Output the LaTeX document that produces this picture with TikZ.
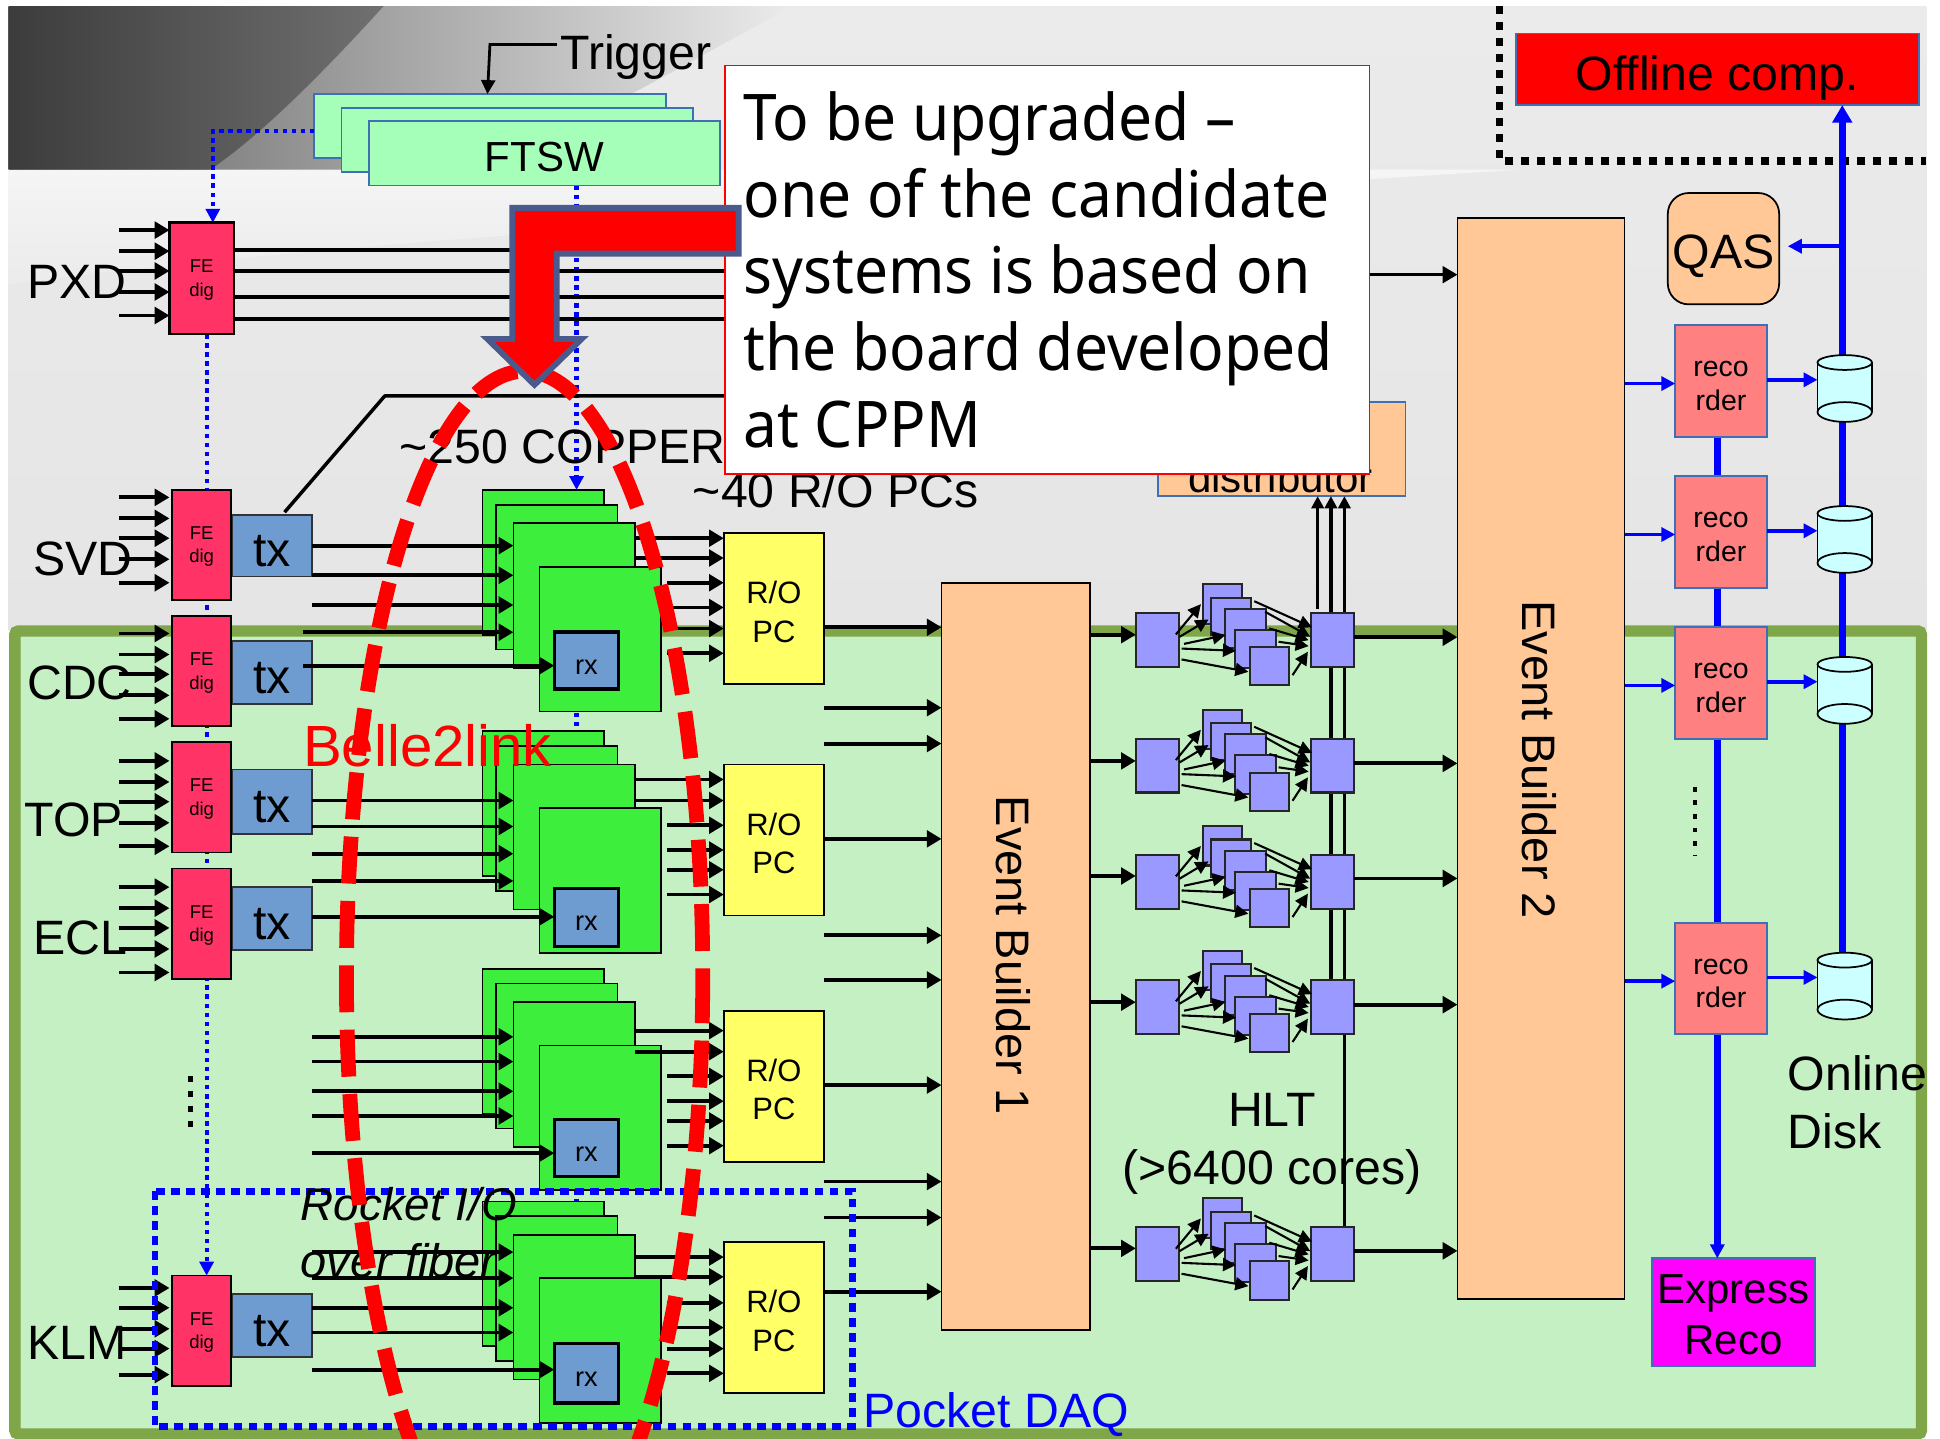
\documentclass[tikz,border=0pt]{standalone}
\usepackage{fontspec}
\setmainfont{Liberation Sans}
\newfontfamily\boxfont[FakeStretch=0.94]{Noto Sans}
\usetikzlibrary{arrows.meta}
\newcommand{\fs}[1]{\fontsize{\the\dimexpr0.711pt*#1\relax}{\the\dimexpr0.711pt*#1*6/5\relax}\selectfont}
\newcommand{\fsl}[2]{\fontsize{\the\dimexpr0.711pt*#1\relax}{\the\dimexpr0.711pt*#2\relax}\selectfont}
\newcommand{\rbox}[7]{%
  \pgfmathsetmacro\cxx{((#3)+(#5))/2}\pgfmathsetmacro\cyy{((#4)+(#6))/2}%
  \pgfmathsetmacro\bww{((#5)-(#3))*0.025}\pgfmathsetmacro\bhh{((#6)-(#4))*0.025}%
  \node[minimum width=\bww cm,minimum height=\bhh cm,inner sep=0pt,outer sep=0pt,align=center,#1] (#2) at (\cxx,\cyy) {#7};}
\definecolor{greenbg}{HTML}{C5F0C3}
\definecolor{greenbd}{HTML}{7FA648}
\definecolor{febc}{HTML}{FF3366}
\definecolor{txc}{HTML}{6F9CD0}
\definecolor{ftswc}{HTML}{A6FFB8}
\definecolor{edgeb}{HTML}{3F6FB5}
\definecolor{copc}{HTML}{3DEE3D}
\definecolor{roc}{HTML}{FFFF66}
\definecolor{ebc}{HTML}{FFC896}
\definecolor{hltc}{HTML}{9999FF}
\definecolor{recc}{HTML}{FF8080}
\definecolor{diskc}{HTML}{CCFFFF}
\definecolor{slate}{HTML}{4A5A8C}
\definecolor{pure}{HTML}{0000FF}
\definecolor{mag}{HTML}{FF00FF}
\definecolor{gA}{HTML}{EBEBEB}
\definecolor{gB}{HTML}{E5E5E5}
\definecolor{gC}{HTML}{F5F5F5}
\definecolor{gD}{HTML}{3C3C3C}
\definecolor{gE}{HTML}{707070}
\definecolor{gF}{HTML}{606060}
\tikzset{
  febox/.style={draw=black,line width=1.4pt,fill=febc},
  txbox/.style={draw=black!80,line width=1pt,fill=txc,font=\fs{39},text height=24.2pt,text depth=0pt},
  rxbox/.style={draw=black,line width=2pt,fill=txc,font=\fs{22},text height=15.6pt,text depth=0pt},
  ftswbox/.style={draw=edgeb,line width=1pt,fill=ftswc,font=\fs{34.5},text height=20.6pt,text depth=0pt},
  copbox/.style={draw=black,line width=1pt,fill=copc},
  robox/.style={draw=black,line width=1pt,fill=roc},
  ebbox/.style={draw=black,line width=1pt,fill=ebc},
  hltbox/.style={draw=black!85,line width=1.2pt,fill=hltc},
  recbox/.style={draw=edgeb,line width=1.2pt,fill=recc},
  mtext/.style={inner sep=0pt,outer sep=0pt,align=center},
  arr/.style={line width=2.2pt,draw=black,-{Triangle[length=8.5pt,width=9.5pt]}},
  plain/.style={line width=2pt,draw=black},
  fan/.style={line width=1.2pt,draw=black,-{Triangle[length=7.5pt,width=7.5pt]}},
  vtip/.style={line width=2pt,draw=black,-{Triangle[length=7pt,width=7pt]}},
  barr/.style={line width=2.2pt,draw=pure,-{Triangle[length=8pt,width=8pt]}},
  bmain/.style={line width=3.8pt,draw=pure},
  bdot/.style={line width=2.4pt,draw=pure,dash pattern=on 2.6pt off 2.6pt},
  labt/.style={font=\fs{39},inner sep=0pt,outer sep=0pt,anchor=west},
  disk/.style={fill=diskc,draw=black,line width=1pt},
}
\begin{document}
\begin{tikzpicture}[x=0.025cm,y=-0.025cm]
\useasboundingbox (0,0) rectangle (1568,1163);
% backgrounds
\shade[top color=gA,bottom color=gB] (7,5) rectangle (1557,510);
\shade[top color=gC,bottom color=gA] (7,137) -- (1230,137) .. controls (800,165) and (300,190) .. (7,230) -- cycle;
\shade[left color=gF,right color=gA] (7,5) -- (640,5) .. controls (540,60) and (450,110) .. (390,137) -- (7,137) -- cycle;
\shade[left color=gD,right color=gE] (7,5) -- (310,5) .. controls (260,60) and (210,110) .. (170,137) -- (7,137) -- cycle;
\draw[greenbd,fill=greenbg,line width=6.5pt,rounded corners=2pt] (12,510) rectangle (1553,1159);
% offline corner
\coordinate (dotA) at (1212,5);
\coordinate (dotB) at (1212,130);
\coordinate (dotC) at (1557,130);
\draw[line width=4.3pt,dash pattern=on 4.6pt off 4.6pt] (dotA) -- (dotB) -- (dotC);
% thin blue timing lines
\coordinate (dt) at (167,270);
\coordinate (dk) at (167,1031);
\draw[bdot,-{Triangle[length=8pt,width=8pt]}] (dt) -- (dk);
\coordinate (ft) at (466,150);
\coordinate (fc) at (466,396);
\draw[bdot,-{Triangle[length=8pt,width=8pt]}] (ft) -- (fc);
\coordinate (gap1a) at (466,576); \coordinate (gap1b) at (466,592);
\draw[bdot] (gap1a) -- (gap1b);
\coordinate (gap2a) at (466,962); \coordinate (gap2b) at (466,972);
\draw[bdot] (gap2a) -- (gap2b);
% dots on the left
\coordinate (vdA) at (154,870); \coordinate (vdB) at (154,914);
\draw[line width=3pt,dash pattern=on 3.5pt off 5pt] (vdA) -- (vdB);
% trigger and FTSW
\node[labt] (trig) at (453,46) {Trigger};
\rbox{ftswbox}{f1}{254}{76}{538}{128}{}
\rbox{ftswbox}{f2}{276}{87}{560}{139}{}
\rbox{ftswbox}{f3}{298}{98}{582}{150}{FTSW}
\coordinate (tgA) at (450,36); \coordinate (tgB) at (396,36); \coordinate (tgC) at (394,76);
\draw[line width=1.6pt,-{Triangle[length=8pt,width=8pt]}] (tgA) -- (tgB) -- (tgC);
\coordinate (fb) at (254,106); \coordinate (fa) at (172,106); \coordinate (fd) at (172,180);
\draw[bdot,-{Triangle[length=8pt,width=8pt]}] (fb) -- (fa) -- (fd);
% event builders and distributor
\rbox{draw=edgeb,line width=1pt,fill=ebc}{dist}{936}{325}{1136}{401}{}
\node[font=\fs{34.5},inner sep=0pt,anchor=base] (disttxt) at (1035,398) {distributor};
\rbox{ebbox}{eb1}{761}{471}{881}{1075}{}
\rbox{ebbox}{eb2}{1178}{176}{1313}{1050}{}
\node[font=\fs{38.5},rotate=-90,inner sep=0pt] (eb1t) at (819,772) {Event Builder 1};
\node[font=\fs{38.7},rotate=-90,inner sep=0pt] (eb2t) at (1244,614) {Event Builder 2};
% front end
\foreach \nm/\lab/\ty/\lx/\ly in {P/PXD/180/22/228,S/SVD/396/27/452,C/CDC/506/22/552,T/TOP/609/20/663,E/ECL/711/27/758}{
  \node[labt] (lab\nm) at (\lx,\ly) {\lab};
  \foreach \dd in {6,23,39,56,75}{
    \coordinate (in) at (96,{\ty+\dd});
    \coordinate (inb) at (137,{\ty+\dd});
    \draw[arr] (in) -- (inb);
  }
}
\node[labt] (labK) at (22,1085) {KLM};
\foreach \yy in {1041,1057,1074,1090,1111}{
  \coordinate (in) at (96,\yy); \coordinate (inb) at (137,\yy);
  \draw[arr] (in) -- (inb);
}
\rbox{febox}{feP}{137}{180}{189}{270}{}
\node[mtext,font=\fsl{15}{19}] (feP t) at ([yshift=-1pt]feP.center) {FE\\dig};
\foreach \nm/\ty in {S/396,C/498,T/600,E/702,K/1031}{
  \rbox{febox,line width=1pt}{fe\nm}{139}{\ty}{187}{\ty+89}{}
  \node[mtext,font=\fsl{15}{19}] (fe\nm t) at ([yshift=-1pt]fe\nm.center) {FE\\dig};
}
\foreach \nm/\ty/\by in {S/416/466,C/518/569,T/622/674,E/717/768,K/1046/1097}{
  \rbox{txbox}{tx\nm}{188}{\ty}{252}{\by}{tx}
}
% PXD outputs and SVD line, running behind the white box
\foreach \yy in {202,219,240,258}{
  \coordinate (pa) at (189,\yy); \coordinate (pb) at (600,\yy);
  \draw[plain] (pa) -- (pb);
}
\coordinate (sa) at (230,414); \coordinate (sb) at (311,320); \coordinate (sc) at (600,320);
\draw[plain,line join=round] (sa) -- (sb) -- (sc);
\coordinate (pout) at (1100,222);
\draw[arr,line width=1.8pt] (pout) -- (pout -| eb2.west);
% COPPER groups
\foreach \g/\ty/\ra/\rb in {1/396/511/557,2/591/718/765,3/783/905/951,4/971/1086/1134}{
  \rbox{copbox}{c\g a}{390}{\ty}{488}{\ty+117}{}
  \rbox{copbox}{c\g b}{401}{\ty+12}{499}{\ty+129}{}
  \rbox{copbox}{c\g c}{415}{\ty+27}{513}{\ty+144}{}
  \rbox{copbox}{c\g d}{436}{\ty+62}{534}{\ty+179}{}
  \rbox{rxbox}{rx\g}{448}{\ra}{500}{\rb}{rx}
}
\foreach \g/\ya/\yb/\yc/\yd/\ye/\sx in {1/441/465/489/511/538/245,2/647/668/690/712/741/252,3/838/858/882/902/932/252,4/1012/1033/1057/1077/1107/252}{
  \foreach \yy/\xx in {\ya/252,\yb/252,\yc/252,\yd/\sx}{
    \coordinate (ca) at (\xx,\yy);
    \draw[arr] (ca) -- (ca -| c\g c.west);
  }
  \coordinate (ca) at (\sx,\ye);
  \draw[arr] (ca) -- (ca -| rx\g.west);
}
% readout PCs
\foreach \g/\ty in {1/431,2/618,3/817,4/1004}{
  \rbox{robox}{ro\g}{585}{\ty}{666}{\ty+122}{}
  \node[mtext,font=\fsl{25.5}{31}] (ro\g t) at ([yshift=-1.8pt]ro\g.center) {R/O\\PC};
}
\foreach \g/\ya/\yb/\yc/\yd/\ye/\yf in {1/435/451/471/491/508/528,2/630/647/667/687/703/723,3/833/850/870/890/906/926,4/1016/1032/1053/1073/1090/1110}{
  \foreach \yy in {\ya,\yb}{
    \coordinate (oa) at (513,\yy);
    \draw[arr] (oa) -- (oa -| ro\g.west);
  }
  \foreach \yy in {\yc,\yd,\ye,\yf}{
    \coordinate (oa) at (539,\yy);
    \draw[arr] (oa) -- (oa -| ro\g.west);
  }
}
\foreach \yy in {507,572,601,678,756,792,877,955,984,1044}{
  \coordinate (ea) at (666,\yy);
  \draw[arr] (ea) -- (ea -| eb1.west);
}
% HLT vertical bundle
\coordinate (vl) at (1065,492);
\coordinate (vm) at (1075.7,792);
\coordinate (vr) at (1086.6,992);
\draw[vtip] (vl) -- (vl |- dist.south);
\draw[vtip] (vm) -- (vm |- dist.south);
\draw[vtip] (vr) -- (vr |- dist.south);
% HLT farms
\foreach \r/\y/\a/\b in {1/495.5/513/515,2/597/615/617,3/691/708/710,4/792/810/812,5/992/1009/1011}{
  \rbox{hltbox}{L\r}{918}{\y}{953}{\y+43.5}{}
  \rbox{hltbox}{R\r}{1059.5}{\y}{1094}{\y+43.5}{}
  \rbox{hltbox}{r\r a}{972}{\y-23.5}{1004}{\y+8.5}{}
  \rbox{hltbox}{r\r b}{979}{\y-12.5}{1011}{\y+17.5}{}
  \rbox{hltbox}{r\r c}{990}{\y-3.5}{1023}{\y+28.5}{}
  \rbox{hltbox}{r\r d}{998}{\y+13.5}{1031}{\y+44.5}{}
  \rbox{hltbox}{r\r e}{1010}{\y+27.5}{1042}{\y+58.5}{}
  \foreach \xa/\da/\xb/\db in {950.4/17.3/970.6/-7.2,953.4/19.2/976.8/5.2,957/24.9/990.5/17.8,955/28.7/999/30.5,955/37.5/1009/47.5,1013.7/-9.6/1060.4/11.5,1022.6/-1/1059/19.2,1025.9/12.4/1057.7/21.9,1033.4/23.2/1057.7/26.7,1044.7/50.2/1057.1/31.3}{
    \coordinate (fa1) at (\xa,{\y+\da});
    \coordinate (fa2) at (\xb,{\y+\db});
    \draw[fan] (fa1) -- (fa2);
  }
  \coordinate (ha) at (900,\a);
  \draw[arr] (ha -| eb1.east) -- (ha -| L\r.west);
  \coordinate (hb) at (1120,\b);
  \draw[arr] (hb -| R\r.east) -- (hb -| eb2.west);
}
\node[font=\fs{39},inner sep=0pt] (hlt) at (1028,897) {HLT};
\node[font=\fs{39},inner sep=0pt] (cores) at (1028,947) {(>6400 cores)};
% pocket DAQ
\draw[draw=pure,line width=3.6pt,dash pattern=on 5pt off 3.6pt] (125,963) rectangle (689,1153);
\node[labt,text=pure,font=\fs{39.5}] (pocket) at (698,1143) {Pocket DAQ};
% labels above the boards
\node[labt] (cop) at (323,361) {\textasciitilde 250 COPPER};
\node[labt] (ropcs) at (560,396) {\textasciitilde 40 R/O PCs};
\node[labt,font=\fs{47},text=red] (belle) at (245,603) {Belle2link};
\node[labt,font=\fs{37}\itshape] (rio) at (243,973) {Rocket I/O};
\node[labt,font=\fs{38}\itshape] (ofib) at (243,1019) {over fiber};
% storage side
\rbox{draw=edgeb,line width=1pt,fill=red,font=\fs{39},text height=24.2pt,text depth=0pt}{off}{1225}{27}{1551}{85}{Offline comp.}
\rbox{draw=black,line width=1pt,fill=ebc,rounded corners=12pt,font=\fs{39},text height=22.8pt,text depth=0pt}{qas}{1348}{156}{1438}{246}{QAS}
\rbox{draw=edgeb,line width=1pt,fill=mag}{expr}{1335}{1017}{1467}{1104}{}
\node[mtext,font=\fsl{34}{41}] (exprt) at ([yshift=-1.4pt]expr.center) {Express\\Reco};
\coordinate (bl) at (1489,775);
\draw[bmain,-{Triangle[length=10pt,width=11pt]}] (bl) -- (bl |- off.south);
\coordinate (ql) at (1489,199);
\draw[barr,shorten >=5pt] (ql) -- (ql -| qas.east);
\coordinate (rl) at (1388,353);
\draw[bmain,-{Triangle[length=8pt,width=8pt]}] (rl) -- (rl |- expr.north);
\coordinate (rdA) at (1370,636); \coordinate (rdB) at (1370,692);
\draw[line width=2.6pt,dash pattern=on 2.8pt off 5pt] (rdA) -- (rdB);
\foreach \i/\y in {1/263,2/385,3/507,4/746}{
  \rbox{recbox}{rec\i}{1354}{\y}{1428}{\y+90}{}
  \node[mtext,font=\fsl{23}{27}] (rec\i t) at ([yshift=-2.8pt]rec\i.center) {reco\\rder};
  \rbox{}{disk\i}{1469}{\y+24}{1513}{\y+78}{}
  \fill[diskc] (1469,\y+30) rectangle (1513,\y+70);
  \draw[black,line width=1pt] (1469,\y+30) -- (1469,\y+70) (1513,\y+30) -- (1513,\y+70);
  \draw[disk] (1491,\y+70) ellipse [x radius=22,y radius=8];
  \draw[disk] (1491,\y+30) ellipse [x radius=22,y radius=6];
  \coordinate (ra) at (1340,\y+47);
  \draw[barr] (ra -| eb2.east) -- (ra -| rec\i.west);
  \coordinate (rb) at (1440,\y+44);
  \draw[barr] (rb -| rec\i.east) -- (rb -| disk\i.west);
}
\node[labt,align=left,font=\fsl{39}{47},anchor=north west] (online) at (1445,853) {Online\\Disk};
% red loop, clipped by the page
\begin{scope}
  \clip (0,0) rectangle (1568,1163);
  \draw[red,line width=8.5pt,dash pattern=on 27pt off 10pt] (424,789) ellipse [x radius=144,y radius=489];
\end{scope}
% white box
\rbox{draw=red,line width=0.8pt,fill=white}{wbox}{586}{53}{1107}{383}{}
\node[inner sep=0pt,outer sep=0pt,anchor=north west,align=left,font=\boxfont\fsl{52}{62}] (wtext) at (601,74) {To be upgraded –\\one of the candidate\\systems is based on\\the board developed\\at CPPM};
% bent arrow
\coordinate (ba) at (597,168); \coordinate (bb) at (414,168); \coordinate (bc) at (414,274);
\coordinate (bd) at (394,274); \coordinate (be) at (432,311); \coordinate (bf) at (470,274);
\coordinate (bg) at (450,274); \coordinate (bh) at (450,205); \coordinate (bi) at (597,205);
\filldraw[draw=slate,fill=red,line width=3.4pt] (ba) -- (bb) -- (bc) -- (bd) -- (be) -- (bf) -- (bg) -- (bh) -- (bi) -- cycle;
\end{tikzpicture}
\end{document}
